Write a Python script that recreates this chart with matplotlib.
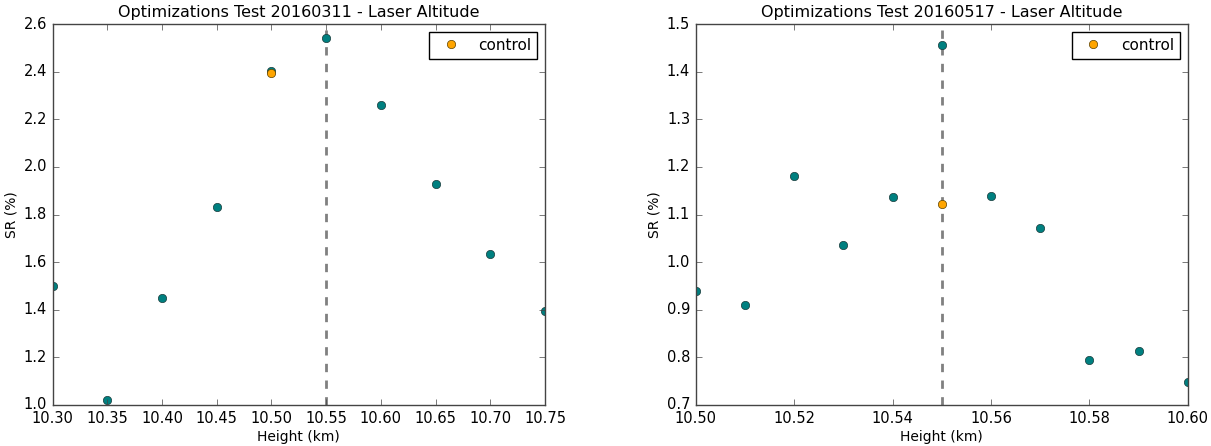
import matplotlib
matplotlib.use('Agg')
import matplotlib.pyplot as plt

plt.style.use('classic')

# test 20160311
h1 = [10.30, 10.35, 10.40, 10.45, 10.50, 10.55, 10.60, 10.65, 10.70, 10.75]
sr1 = [1.50, 1.02, 1.45, 1.83, 2.405, 2.54, 2.26, 1.93, 1.635, 1.395]
ctrl_h1 = [10.50]
ctrl_sr1 = [2.395]
best1 = 10.55

# test 20160517
h2 = [10.50, 10.51, 10.52, 10.53, 10.54, 10.55, 10.56, 10.57, 10.58, 10.59, 10.60]
sr2 = [0.94, 0.91, 1.18, 1.035, 1.137, 1.457, 1.138, 1.072, 0.795, 0.813, 0.748]
ctrl_h2 = [10.55]
ctrl_sr2 = [1.123]
best2 = 10.55

fig = plt.figure(figsize=(12.11, 4.46), dpi=100, facecolor='white')
ax1 = fig.add_axes([0.0435, 0.092, 0.4065, 0.854])
ax2 = fig.add_axes([0.5745, 0.092, 0.4063, 0.854])

panels = [
    (ax1, h1, sr1, ctrl_h1, ctrl_sr1, best1, '20160311', (10.30, 10.75), (1.0, 2.6)),
    (ax2, h2, sr2, ctrl_h2, ctrl_sr2, best2, '20160517', (10.50, 10.60), (0.7, 1.5)),
]

for ax, h, sr, ch, cs, best, date, xl, yl in panels:
    ax.axvline(best, color='gray', linestyle='--', linewidth=2)
    ax.plot(h, sr, 'o', color='teal', markeredgecolor='#1a3a3a', markersize=6)
    ax.plot(ch, cs, 'o', color='orange', markeredgecolor='#5a4000', markersize=6, label='control')
    ax.set_xlim(xl)
    ax.set_ylim(yl)
    ax.set_title('Optimizations Test %s - Laser Altitude' % date, fontsize=11.5)
    ax.set_xlabel('Height (km)', fontsize=10, labelpad=3)
    ax.set_ylabel('SR (%)', fontsize=10, labelpad=4)
    ax.tick_params(labelsize=10.5, pad=4, color='#444444')
    for sp in ax.spines.values():
        sp.set_color('#444444')
    ax.legend(numpoints=1, fontsize=11, loc='upper right')

ax1.set_xticks([10.30, 10.35, 10.40, 10.45, 10.50, 10.55, 10.60, 10.65, 10.70, 10.75])
ax1.set_xticklabels(['%.2f' % v for v in ax1.get_xticks()])
ax2.set_xticks([10.50, 10.52, 10.54, 10.56, 10.58, 10.60])
ax2.set_xticklabels(['%.2f' % v for v in ax2.get_xticks()])

plt.savefig('out.png', dpi=100, facecolor='white')
